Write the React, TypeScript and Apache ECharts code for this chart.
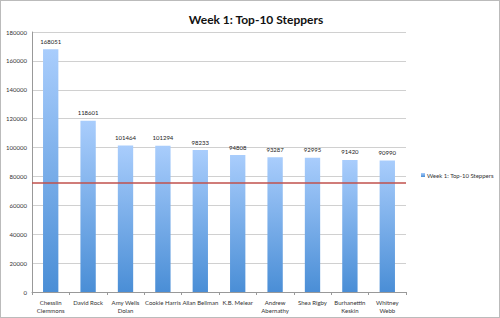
import React, { useEffect, useRef } from "react";
import * as echarts from "echarts";

const title = "Week 1: Top-10 Steppers";
const categories = [
  "Chesslin\nClemmons",
  "David Rock",
  "Amy Wells\nDolan",
  "Cookie Harris",
  "Allan Bellman",
  "K.B. Melear",
  "Andrew\nAbernathy",
  "Shea Rigby",
  "Burhanettin\nKeskin",
  "Whitney\nWebb",
];
const steps = [168051, 118601, 101464, 101294, 98233, 94808, 93287, 92995, 91420, 90990];
const targetLine = 75600;
const yMin = 0;
const yMax = 180000;
const yInterval = 20000;

const FONT = "Lato, 'Open Sans', sans-serif";

export default function App() {
  const ref = useRef<HTMLDivElement>(null);
  useEffect(() => {
    if (!ref.current) return;
    const chart = echarts.init(ref.current, undefined, { renderer: "svg" });
    chart.setOption({
      animation: false,
      backgroundColor: "#fff",
      textStyle: { fontFamily: FONT },
      title: {
        text: title,
        left: 250,
        textAlign: "center",
        top: 7,
        textStyle: { fontSize: 12, fontWeight: "bold", color: "#111", fontFamily: FONT },
      },
      legend: {
        data: [title],
        left: 415,
        top: 166,
        orient: "vertical",
        itemWidth: 4,
        itemHeight: 4,
        itemGap: 4,
        textStyle: { fontSize: 6, color: "#333", fontFamily: FONT, padding: [0, 0, 0, -3] },
        icon: "rect",
      },
      grid: { left: 31, right: 93, top: 31, bottom: 25, containLabel: false },
      xAxis: {
        type: "category",
        data: categories,
        axisLine: { lineStyle: { color: "#999" } },
        axisTick: { show: true, length: 3, lineStyle: { color: "#999" }, alignWithLabel: false },
        axisLabel: { fontSize: 6, color: "#333", interval: 0, lineHeight: 8, margin: 6, fontFamily: FONT },
      },
      yAxis: {
        type: "value",
        min: yMin,
        max: yMax,
        interval: yInterval,
        axisLine: { show: true, lineStyle: { color: "#999" } },
        axisTick: { show: false },
        splitLine: { lineStyle: { color: "#d0d0d0" } },
        axisLabel: { fontSize: 6, color: "#333", margin: 5, fontFamily: FONT, formatter: (v: number) => String(v) },
      },
      series: [
        {
          name: title,
          type: "bar",
          data: steps,
          barWidth: "41%",
          itemStyle: {
            color: new echarts.graphic.LinearGradient(0, 0, 0, 1, [
              { offset: 0, color: "#a9cdfc" },
              { offset: 1, color: "#4a8ed6" },
            ]),
          },
          label: {
            show: true,
            position: "top",
            distance: 5,
            fontSize: 6,
            color: "#222",
            fontFamily: FONT,
          },
          markLine: {
            silent: true,
            symbol: ["none", "none"],
            z: 10,
            label: { show: false },
            lineStyle: { color: "#c0504d", width: 1.5, type: "solid", opacity: 1 },
            data: [{ yAxis: targetLine }],
          },
        },
      ],
    });
    return () => chart.dispose();
  }, []);
  return (
    <div
      style={{
        position: "absolute",
        left: 0,
        top: 0,
        width: 500,
        height: 318,
        boxSizing: "border-box",
        border: "1px solid #bbb",
        background: "#fff",
      }}
    >
      <div ref={ref} style={{ width: 498, height: 316 }} />
    </div>
  );
}
